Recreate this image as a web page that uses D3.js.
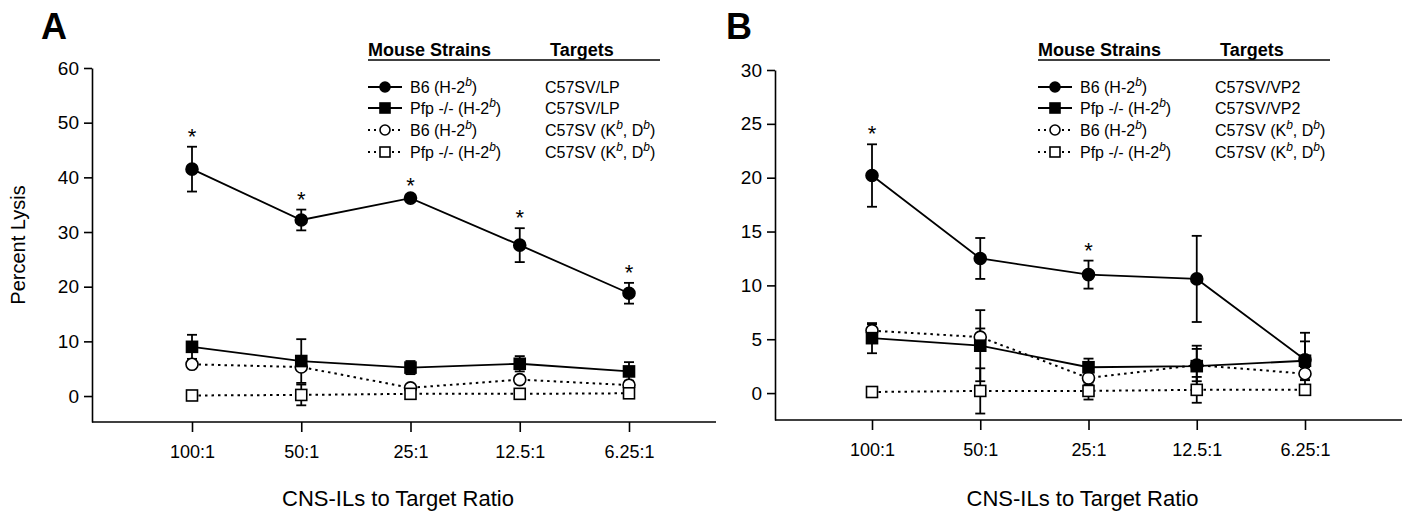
<!DOCTYPE html>
<html>
<head>
<meta charset="utf-8">
<script src="https://cdn.jsdelivr.net/npm/d3@7"></script>
<style>
  body { margin: 0; background: #fff; }
  text { font-family: "Liberation Sans", Arial, sans-serif; fill: #000; }
</style>
</head>
<body>
<div id="wrapper"></div>
<script>
// effector:target ratios (x categories)
const ratios = ["100:1", "50:1", "25:1", "12.5:1", "6.25:1"];

// Panel A – percent lysis
const b6LP = [41.5, 32.2, 36.2, 27.6, 18.8];
const b6LPErr = [4.1, 1.9, 0.4, 3.1, 1.9];
const b6LPStars = [true, true, true, true, true];
const pfpLP = [9.0, 6.4, 5.2, 5.9, 4.5];
const pfpLPErr = [2.2, 4.0, 1.2, 1.4, 1.7];
const b6KbDbA = [5.8, 5.3, 1.5, 3.0, 2.0];
const b6KbDbAErr = [0.5, 0.6, 0.5, 0.7, 0.5];
const pfpKbDbA = [0.1, 0.2, 0.4, 0.4, 0.5];
const pfpKbDbAErr = [0.2, 1.9, 0.5, 0.8, 0.4];
const yTicksA = [0, 10, 20, 30, 40, 50, 60];

// Panel B – percent lysis
const b6VP2 = [20.2, 12.5, 11.0, 10.6, 3.1];
const b6VP2Err = [2.9, 1.9, 1.3, 4.0, 2.5];
const b6VP2Stars = [true, false, true, false, false];
const pfpVP2 = [5.1, 4.4, 2.4, 2.5, 3.0];
const pfpVP2Err = [1.4, 3.3, 0.8, 1.9, 1.8];
const b6KbDbB = [5.8, 5.2, 1.4, 2.6, 1.8];
const b6KbDbBErr = [0.6, 0.8, 0.6, 1.5, 0.6];
const pfpKbDbB = [0.1, 0.2, 0.2, 0.3, 0.3];
const pfpKbDbBErr = [0.2, 2.1, 0.8, 1.2, 0.4];
const yTicksB = [0, 5, 10, 15, 20, 25, 30];

const panels = [
    {
        letter: "A", letterX: 41,
        axisX: 92, axisEnd: 716, xFirst: 192, xLast: 629,
        top: 68, bottom: 422, yDomain: [-4.75, 60], yTicks: yTicksA,
        legendX: 368,
        series: [
            { strain: "B6", target: "C57SV/LP", shape: "circle", filled: true, values: b6LP, errors: b6LPErr, stars: b6LPStars },
            { strain: "Pfp -/-", target: "C57SV/LP", shape: "square", filled: true, values: pfpLP, errors: pfpLPErr },
            { strain: "B6", target: "KD", shape: "circle", filled: false, values: b6KbDbA, errors: b6KbDbAErr },
            { strain: "Pfp -/-", target: "KD", shape: "square", filled: false, values: pfpKbDbA, errors: pfpKbDbAErr }
        ]
    },
    {
        letter: "B", letterX: 726,
        axisX: 775, axisEnd: 1402, xFirst: 872, xLast: 1305,
        top: 70, bottom: 420, yDomain: [-2.5, 30], yTicks: yTicksB,
        legendX: 1038,
        series: [
            { strain: "B6", target: "C57SV/VP2", shape: "circle", filled: true, values: b6VP2, errors: b6VP2Err, stars: b6VP2Stars },
            { strain: "Pfp -/-", target: "C57SV/VP2", shape: "square", filled: true, values: pfpVP2, errors: pfpVP2Err },
            { strain: "B6", target: "KD", shape: "circle", filled: false, values: b6KbDbB, errors: b6KbDbBErr },
            { strain: "Pfp -/-", target: "KD", shape: "square", filled: false, values: pfpKbDbB, errors: pfpKbDbBErr }
        ]
    }
];

const svg = d3.select("#wrapper")
    .append("svg")
    .attr("width", 1409)
    .attr("height", 512);

function drawMarker(g, shape, filled, cx, cy, size) {
    const fill = filled ? "#000" : "#fff";
    if (shape === "circle") {
        g.append("circle")
            .attr("cx", cx).attr("cy", cy).attr("r", size)
            .attr("fill", fill).attr("stroke", "#000").attr("stroke-width", 1.6);
    } else {
        g.append("rect")
            .attr("x", cx - size).attr("y", cy - size)
            .attr("width", size * 2).attr("height", size * 2)
            .attr("fill", fill).attr("stroke", "#000").attr("stroke-width", 1.6);
    }
}

// strain label like "B6 (H-2^b)"
function strainText(g, x, y, strain) {
    const t = g.append("text").attr("x", x).attr("y", y).style("font-size", "16px");
    t.append("tspan").text(strain + " (H-2");
    t.append("tspan").attr("dy", -7).style("font-size", "12px").style("font-style", "italic").text("b");
    t.append("tspan").attr("dy", 7).text(")");
}

function targetText(g, x, y, target) {
    const t = g.append("text").attr("x", x).attr("y", y).style("font-size", "16px");
    if (target !== "KD") {
        t.text(target);
        return;
    }
    t.append("tspan").text("C57SV (K");
    t.append("tspan").attr("dy", -7).style("font-size", "12px").style("font-style", "italic").text("b");
    t.append("tspan").attr("dy", 7).text(", D");
    t.append("tspan").attr("dy", -7).style("font-size", "12px").style("font-style", "italic").text("b");
    t.append("tspan").attr("dy", 7).text(")");
}

function drawPanel(p) {
    const g = svg.append("g");

    const x = d3.scalePoint().domain(ratios).range([p.xFirst, p.xLast]);
    const y = d3.scaleLinear().domain(p.yDomain).range([p.bottom, p.top]);

    // panel letter
    g.append("text")
        .attr("x", p.letterX).attr("y", 39)
        .style("font-size", "36px").style("font-weight", "bold")
        .text(p.letter);

    // y axis
    const yAxis = g.append("g")
        .attr("transform", `translate(${p.axisX},0)`)
        .call(d3.axisLeft(y).tickValues(p.yTicks).tickSize(8).tickSizeOuter(0).tickPadding(5));
    yAxis.selectAll("text").style("font-size", "19px").style("font-family", "Liberation Sans, Arial, sans-serif");
    yAxis.selectAll("path, line").attr("stroke", "#000").attr("stroke-width", 1.6);

    // x axis
    const xAxis = g.append("g")
        .attr("transform", `translate(0,${p.bottom})`)
        .call(d3.axisBottom(x).tickSize(10).tickSizeOuter(0).tickPadding(13));
    xAxis.select(".domain").remove();
    xAxis.selectAll("text").style("font-size", "18px").style("font-family", "Liberation Sans, Arial, sans-serif");
    xAxis.selectAll("line").attr("stroke", "#000").attr("stroke-width", 1.6);
    g.append("line")
        .attr("x1", p.axisX).attr("x2", p.axisEnd)
        .attr("y1", p.bottom).attr("y2", p.bottom)
        .attr("stroke", "#000").attr("stroke-width", 1.6);

    // axis titles
    g.append("text")
        .attr("x", (p.axisX + p.axisEnd) / 2 - 6).attr("y", 506)
        .attr("text-anchor", "middle")
        .style("font-size", "22px")
        .text("CNS-ILs to Target Ratio");
    if (p.letter === "A") {
        g.append("text")
            .attr("transform", `translate(25,${(p.top + p.bottom) / 2}) rotate(-90)`)
            .attr("text-anchor", "middle")
            .style("font-size", "20px")
            .text("Percent Lysis");
    }

    const line = d3.line()
        .x((d, i) => x(ratios[i]))
        .y(d => y(d));

    // dotted series behind, solid in front
    const order = [...p.series].sort((a, b) => (a.filled ? 1 : 0) - (b.filled ? 1 : 0));
    order.forEach(s => {
        g.append("path")
            .datum(s.values)
            .attr("d", line)
            .attr("fill", "none")
            .attr("stroke", "#000")
            .attr("stroke-width", s.filled ? 1.8 : 2)
            .attr("stroke-dasharray", s.filled ? null : "2.5,4");
    });

    order.forEach(s => {
        s.values.forEach((v, i) => {
            const cx = x(ratios[i]);
            const e = s.errors[i];
            const y1 = y(v + e), y2 = y(v - e);
            g.append("line").attr("x1", cx).attr("x2", cx).attr("y1", y1).attr("y2", y2)
                .attr("stroke", "#000").attr("stroke-width", 1.8);
            [y1, y2].forEach(yy => {
                g.append("line").attr("x1", cx - 5).attr("x2", cx + 5).attr("y1", yy).attr("y2", yy)
                    .attr("stroke", "#000").attr("stroke-width", 1.8);
            });
        });
    });

    order.forEach(s => {
        s.values.forEach((v, i) => {
            drawMarker(g, s.shape, s.filled, x(ratios[i]), y(v), s.shape === "circle" ? 6 : 5.5);
            if (s.stars && s.stars[i]) {
                g.append("text")
                    .attr("x", x(ratios[i])).attr("y", y(v + s.errors[i]) - 3)
                    .attr("text-anchor", "middle")
                    .style("font-size", "22px")
                    .text("*");
            }
        });
    });

    // legend
    const lx = p.legendX;
    const leg = g.append("g");
    leg.append("text").attr("x", lx).attr("y", 56)
        .style("font-size", "18px").style("font-weight", "bold").text("Mouse Strains");
    leg.append("text").attr("x", lx + 182).attr("y", 56)
        .style("font-size", "18px").style("font-weight", "bold").text("Targets");
    leg.append("line").attr("x1", lx).attr("x2", lx + 292).attr("y1", 60).attr("y2", 60)
        .attr("stroke", "#000").attr("stroke-width", 1.6);

    const rowY = [87, 108, 130, 152];
    p.series.forEach((s, i) => {
        const ry = rowY[i];
        leg.append("line")
            .attr("x1", lx).attr("x2", lx + 34).attr("y1", ry).attr("y2", ry)
            .attr("stroke", "#000").attr("stroke-width", s.filled ? 1.8 : 2)
            .attr("stroke-dasharray", s.filled ? null : "2,4");
        drawMarker(leg, s.shape, s.filled, lx + 17, ry, 5);
        strainText(leg, lx + 42, ry + 6, s.strain);
        targetText(leg, lx + 177, ry + 6, s.target);
    });
}

panels.forEach(drawPanel);
</script>
</body>
</html>
